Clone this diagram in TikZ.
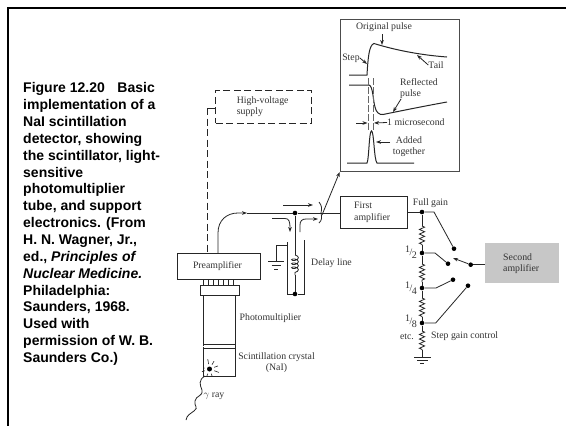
\documentclass[tikz,border=0pt]{standalone}
\usepackage{fontspec}
\setmainfont{Liberation Serif}
\newfontfamily\capfont{Liberation Sans}
\usetikzlibrary{arrows.meta,decorations.pathmorphing,calc}
\newcommand{\gfrac}[2]{\raisebox{3pt}{\fontsize{10}{10}\selectfont #1}\kern-.5pt/\kern-.5pt\raisebox{-3pt}{\fontsize{10}{10}\selectfont #2}}
\tikzset{
 x=1pt,y=-1pt,
 wire/.style={draw=black!85,line width=.8pt},
 tip/.style={wire,-{Stealth[length=5pt,width=3.6pt]}},
 lab/.style={font=\fontsize{9.8}{11.5}\selectfont,text=black!80,inner sep=0pt,align=left},
 clab/.style={lab,align=center},
 boxn/.style={draw=black!85,line width=1pt,inner sep=0pt,fill=white},
 dotn/.style={circle,fill=black,inner sep=0pt,minimum size=4.6pt},
 res/.style={wire,decoration={zigzag,segment length=4.6pt,amplitude=2.6pt},decorate},
 frameln/.style={draw=black,line width=2.4pt},
 dashln/.style={draw=black!85,line width=1pt,dash pattern=on 7pt off 3.5pt},
}
\begin{document}
\begin{tikzpicture}
\useasboundingbox[fill=white] (0,0) rectangle (566,426);
% frame
\coordinate (fa) at (8,426); \coordinate (fb) at (8,8); \coordinate (fc) at (566,8);
\draw[frameln] (fa) -- (fb) -- (fc);
% caption
\node[anchor=north west,inner sep=0pt,align=left,text=black,font=\capfont\bfseries\fontsize{14}{16.85}\selectfont] (cap) at (23,82.5)
{Figure 12.20\hspace{.9em}Basic\\implementation of a\\NaI scintillation\\detector, showing\\the scintillator, light-\\sensitive\\photomultiplier\\tube, and support\\electronics. (From\\H. N. Wagner, Jr.,\\ed., \textit{Principles of}\\\textit{Nuclear Medicine.}\\Philadelphia:\\Saunders, 1968.\\Used with\\permission of W. B.\\Saunders Co.)};
% inset
\node[boxn,draw=black!70,minimum width=119pt,minimum height=152pt,anchor=north west] (inset) at (339.7,19) {};
\node[clab] (opulse) at (384,27) {Original pulse};
\node[lab] (stepl) at (351,58) {Step};
\node[lab] (taill) at (436,65) {Tail};
\node[lab,anchor=west] (refl) at (400,88.5) {Reflected\\pulse};
\node[lab,anchor=west] (micro) at (387,122.5) {1 microsecond};
\node[clab] (addl) at (409,146.5) {Added\\together};
\draw[wire,line width=1pt] (349,75) -- (367,75) .. controls (368,58) and (369,45) .. (374,43.5) .. controls (395,50) and (420,55) .. (447,57);
\draw[wire,line width=1pt] (349,85) -- (369,85) .. controls (373,86) and (373,100) .. (375,107) .. controls (376,112) and (379,115) .. (383,114.5) .. controls (405,110) and (425,106) .. (447,102);
\draw[wire,line width=1pt] (347,163) -- (367,163) .. controls (369,160) and (369,131) .. (371.5,131) .. controls (374,131) and (374,160) .. (377,163) -- (414,163);
\draw[wire,draw=black!60,dash pattern=on 7pt off 2pt] (368.5,78) -- (368.5,130);
\draw[wire,draw=black!60,dash pattern=on 7pt off 2pt] (373,78) -- (373,130);
\draw[tip] (382,34) -- (382,45);
\draw[tip] (stepl.east) -- (367,64);
\draw[tip] (taill.west) -- (417,55);
\draw[tip] (401,99) -- (393,112);
\draw[tip] (356,123) -- (367.5,123);
\draw[tip] (micro.west) -- (374,123);
\draw[tip] (390,142) -- (376,142);
% hv supply
\node[dashln,draw,minimum width=96pt,minimum height=32.7pt,anchor=north west,inner sep=0pt] (hv) at (215,90) {};
\node[lab,anchor=west] (hvl) at (236.6,106.5) {High-voltage\\supply};
% preamp stack
\node[boxn,minimum width=83pt,minimum height=26pt,anchor=north west] (pre) at (177,253) {};
\node[lab,text=black!80] (prel) at (217.5,266) {Preamplifier};
\foreach \i in {0,...,6} \coordinate (p\i) at ({203+\i*5},279);
\foreach \i in {0,...,6} \draw[wire] (p\i) -- ++(0,6);
\node[boxn,minimum width=38.5pt,minimum height=10pt,anchor=north west] (sock) at (200,285) {};
\node[boxn,minimum width=32pt,minimum height=49pt,anchor=north west] (pmt) at (203,295) {};
\node[boxn,minimum width=32pt,minimum height=3.6pt,anchor=north west,line width=.6pt,dash pattern=on 1.6pt off .8pt] (strip) at (203,344.2) {};
\node[boxn,minimum width=32pt,minimum height=28pt,anchor=north west] (crystal) at (203,348) {};
\node[lab,anchor=west] (pml) at (239.5,318) {Photomultiplier};
\node[clab] (scl) at (276.5,362.5) {Scintillation crystal\\(NaI)};
\node[lab,anchor=west] (gl) at (203.5,396) {$\gamma$ ray};
\node[dotn,minimum size=5pt] (flash) at (209.5,369) {};
\foreach \a/\r in {100/10,60/9,20/9,-20/10,-70/8,-110/8,-160/8,170/6}
  \draw[wire,line width=.6pt] ($(flash)+(\a:5pt)$) -- ($(flash)+(\a:\r pt)$);
\coordinate (wv) at (205,376);
\coordinate (we) at (186,420);
\draw[wire] (wv) .. controls (198,380) and (200,385) .. (202,390) .. controls (203,397) and (196,395) .. (195,401) .. controls (194,407) and (199,407) .. (194,411) .. controls (190,414) and (187,415) .. (we);
% signal line
\node[boxn,minimum width=66.7pt,minimum height=32pt,anchor=north west] (first) at (340,196) {};
\node[lab,anchor=west] (firstl) at (354,212.5) {First\\amplifier};
\node[dotn] (dtop) at (295,213) {};
\node[dotn] (dbot) at (295,294) {};
\coordinate (c1) at (218,253);
\coordinate (hs) at (207,108);
\draw[wire] (hv.west |- hs) -- (hs);
\draw[dashln] (hs) -- (pre.north -| hs);
\draw[tip] (c1) -- (218,233) .. controls (218,220) and (227,213) .. (238,213) -- (247,213);
\draw[wire] (247,213) -- (dtop) -- (first.west |- dtop);
\draw[wire] (dtop) -- (295,255);
\draw[wire,decoration={coil,segment length=4pt,amplitude=3.4pt,aspect=.5},decorate] (295,255) -- (295,275);
\draw[wire] (295,275) -- (dbot);
\draw[wire] (287,242) -- (287,294) -- (dbot) -- (304,294) -- (304,240);
\draw[wire] (287,245) -- (276,245) -- (276,261);
\draw[wire] (268,261) -- (284,261) (271.5,265) -- (280.5,265) (274,269) -- (278,269);
\node[lab,anchor=west] (dll) at (311,263) {Delay line};
\draw[tip] (283,205) -- (313,205);
\draw[tip] (272,218.5) -- (285,218.5) .. controls (289,218.5) and (290,221) .. (290,232);
\draw[tip] (300,232) -- (300,225) .. controls (300,221) and (302,219) .. (306,219) -- (318,219);
\draw[wire] (319,202) .. controls (322,206) and (322,208) .. (321,213) .. controls (322,218) and (322,220) .. (319,223);
\draw[tip] (322,215) -- (inset.south west);
% gain ladder
\node[dotn] (g0) at (422,212) {};
\node[dotn] (g2) at (422,253) {};
\node[dotn] (g4) at (422,288) {};
\node[dotn] (g8) at (422,323) {};
\coordinate (gnd) at (422,357);
\node[lab] (full) at (430.5,203) {Full gain};
\node[lab] at (411,252) {\gfrac{1}{2}};
\node[lab] at (411,288.5) {\gfrac{1}{4}};
\node[lab] at (411,321) {\gfrac{1}{8}};
\node[lab] at (407,337) {etc.};
\node[lab,anchor=west] at (431,336.5) {Step gain control};
\draw[wire] (first.east |- g0) -- (g0);
\draw[wire] (g0) -- (422,226);
\draw[res] (422,226) -- (422,245);
\draw[wire] (422,245) -- (g2);
\draw[wire] (g2) -- (422,264);
\draw[res] (422,264) -- (422,282);
\draw[wire] (422,282) -- (g4);
\draw[wire] (g4) -- (422,298);
\draw[res] (422,298) -- (422,317);
\draw[wire] (422,317) -- (g8);
\draw[wire] (g8) -- (422,331);
\draw[res] (422,331) -- (422,350);
\draw[wire] (422,350) -- (gnd);
\draw[wire] (414,357) -- (431,357) (417,360.5) -- (428,360.5) (420,363.5) -- (424,363.5);
\node[dotn] (s1) at (454,248.7) {};
\node[dotn] (s2) at (448,263.7) {};
\node[dotn] (s4) at (453,279.7) {};
\node[dotn] (s8) at (468,285.7) {};
\node[dotn] (arm) at (470.7,264.7) {};
\node[minimum width=74pt,minimum height=39.7pt,fill=black!22,anchor=north west,inner sep=0pt] (second) at (485,243) {};
\node[lab,anchor=west] (secondl) at (503,263.5) {Second\\amplifier};
\draw[wire] (g0) -- (434,212) -- (s1);
\draw[wire] (g2) -- (435,253) -- (s2);
\draw[wire] (g4) -- (436,288) -- (s4);
\draw[wire] (g8) -- (435.7,323) -- (s8);
\draw[wire] (second.west |- arm) -- (arm);
\draw[tip] (arm) -- (453,258);
\end{tikzpicture}
\end{document}
